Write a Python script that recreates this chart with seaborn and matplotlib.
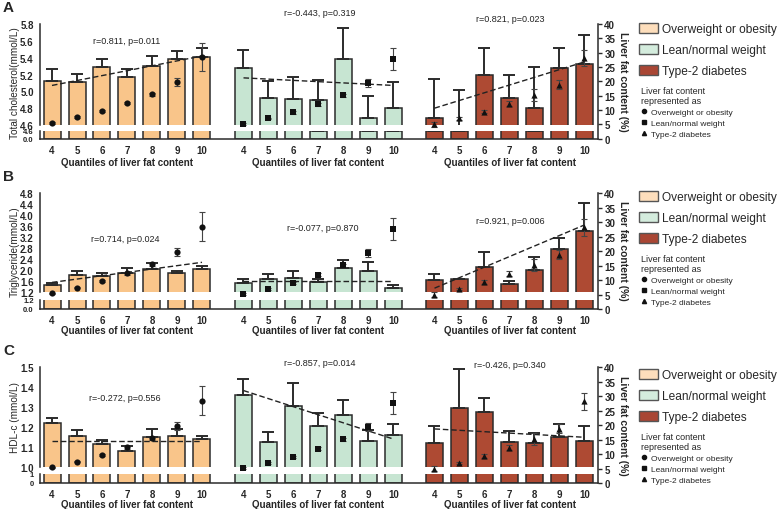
import numpy as np
import matplotlib
matplotlib.use("Agg")
import matplotlib.pyplot as plt
import seaborn as sns
from matplotlib.patches import Patch
from matplotlib.lines import Line2D

sns.set_style("white")
plt.rcParams['font.family'] = ['Liberation Sans', 'DejaVu Sans']

# ---------------- data ----------------
quantiles = [4, 5, 6, 7, 8, 9, 10]
group_names = ['Overweight or obesity', 'Lean/normal weight', 'Type-2 diabetes']

# Total cholesterol (mmol/L): mean and upper SE
tc_overweight = [5.12, 5.11, 5.29, 5.17, 5.30, 5.39, 5.41]
tc_overweight_err = [0.15, 0.10, 0.10, 0.10, 0.12, 0.09, 0.10]
tc_lean = [5.28, 4.92, 4.91, 4.90, 5.38, 4.68, 4.80]
tc_lean_err = [0.21, 0.20, 0.26, 0.24, 0.37, 0.26, 0.31]
tc_t2d = [4.68, 4.50, 5.19, 4.92, 4.80, 5.28, 5.33]
tc_t2d_err = [0.47, 0.51, 0.33, 0.28, 0.49, 0.24, 0.34]
tc_trend = [(5.07, 5.42), (5.16, 5.07), (4.80, 5.35)]
tc_stats = ['r=0.811, p=0.011', 'r=-0.443, p=0.319', 'r=0.821, p=0.023']

# Triglyceride (mmol/L)
tg_overweight = [1.47, 1.82, 1.81, 1.92, 2.05, 1.92, 2.05]
tg_overweight_err = [0.07, 0.14, 0.08, 0.15, 0.22, 0.07, 0.12]
tg_lean = [1.53, 1.69, 1.72, 1.56, 2.09, 1.96, 1.35]
tg_lean_err = [0.16, 0.18, 0.24, 0.14, 0.29, 0.36, 0.13]
tg_t2d = [1.65, 1.69, 2.11, 1.50, 2.00, 2.78, 3.42]
tg_t2d_err = [0.21, 0.0, 0.56, 0.12, 0.50, 0.41, 1.04]
tg_trend = [(1.56, 2.29), (1.60, 1.60), (1.35, 3.65)]
tg_stats = ['r=0.714, p=0.024', 'r=-0.077, p=0.870', 'r=0.921, p=0.006']

# HDL-c (mmol/L)
hdl_overweight = [1.218, 1.156, 1.114, 1.077, 1.151, 1.154, 1.139]
hdl_overweight_err = [0.029, 0.029, 0.020, 0.029, 0.040, 0.034, 0.015]
hdl_lean = [1.361, 1.122, 1.304, 1.203, 1.260, 1.131, 1.159]
hdl_lean_err = [0.080, 0.051, 0.117, 0.065, 0.077, 0.055, 0.056]
hdl_t2d = [1.119, 1.295, 1.277, 1.126, 1.119, 1.148, 1.129]
hdl_t2d_err = [0.087, 0.195, 0.067, 0.052, 0.050, 0.067, 0.077]
hdl_trend = [(1.129, 1.129), (1.383, 1.139), (1.190, 1.148)]
hdl_stats = ['r=-0.272, p=0.556', 'r=-0.857, p=0.014', 'r=-0.426, p=0.340']

# Liver fat content (%) per group, mean and SE
liver_overweight = [5.4, 7.4, 9.6, 12.4, 15.4, 19.7, 28.5]
liver_overweight_err = [0.3, 0.3, 0.4, 0.5, 0.6, 1.5, 4.9]
liver_lean = [5.1, 7.0, 9.1, 11.9, 15.1, 19.3, 27.7]
liver_lean_err = [0.3, 0.3, 0.4, 0.6, 0.6, 1.4, 3.9]
liver_t2d = [5.0, 7.0, 9.4, 12.2, 15.2, 18.8, 28.2]
liver_t2d_err = [0.9, 0.4, 0.6, 0.8, 2.0, 1.5, 2.8]

# ---------------- style ----------------
bar_colors = ['#F9C58A', '#C7E5D2', '#AE4A33']
legend_colors = ['#FDDEBC', '#D4ECDD', '#A94634']
markers = ['o', 's', '^']
edge = '#2b2b2b'

W, H = 779, 510
fig = plt.figure(figsize=(W / 100, H / 100), dpi=100)


def px_axes(x0, y0, x1, y1):
    return fig.add_axes([x0 / W, 1 - y1 / H, (x1 - x0) / W, (y1 - y0) / H])


def ftext(x, y, s, **kw):
    fig.text(x / W, 1 - y / H, s, **kw)


offsets = [0.0, 7.66, 15.3]
XL = (-0.48, 21.84)
LEFT, RIGHT = 40, 598
xpos = [np.array(quantiles) - 4 + o for o in offsets]

liver = [(liver_overweight, liver_overweight_err), (liver_lean, liver_lean_err),
         (liver_t2d, liver_t2d_err)]

rows = [
    dict(letter='A', top=25, brk_top=126, brk_bot=132, bottom=139.5,
         ylim=(4.6, 5.8), yticks=np.arange(4.6, 5.81, 0.2), fmt='{:.1f}',
         low_ylim=(0, 4.6), low_ticks=[0, 4.6], low_labels=['0.0', '4.6'],
         ylabel='Total cholesterol(mmol/L)', ylabel_y=83, rlabel_y=82,
         bars=[(tc_overweight, tc_overweight_err), (tc_lean, tc_lean_err), (tc_t2d, tc_t2d_err)],
         trend=tc_trend, stats=tc_stats, stat_pos=[(127, 41), (320, 14), (510, 20)],
         xlabel_y=163, dy=0),
    dict(letter='B', top=194.3, brk_top=293.3, brk_bot=301, bottom=310,
         ylim=(1.2, 4.8), yticks=np.arange(1.2, 4.81, 0.4), fmt='{:.1f}',
         low_ylim=(0, 1.2), low_ticks=[0, 1.2], low_labels=['0.0', '1.2'],
         ylabel='Triglyceride(mmol/L)', ylabel_y=252, rlabel_y=251,
         bars=[(tg_overweight, tg_overweight_err), (tg_lean, tg_lean_err), (tg_t2d, tg_t2d_err)],
         trend=tg_trend, stats=tg_stats, stat_pos=[(125, 239), (323, 229), (510, 222)],
         xlabel_y=331, dy=168),
    dict(letter='C', top=368.3, brk_top=467.7, brk_bot=474.5, bottom=484,
         ylim=(1.0, 1.5), yticks=np.arange(1.0, 1.501, 0.1), fmt='{:.1f}',
         low_ylim=(0, 1.0), low_ticks=[0, 1], low_labels=['0', '1'],
         ylabel='HDL-c (mmol/L)', ylabel_y=418, rlabel_y=426,
         bars=[(hdl_overweight, hdl_overweight_err), (hdl_lean, hdl_lean_err), (hdl_t2d, hdl_t2d_err)],
         trend=hdl_trend, stats=hdl_stats, stat_pos=[(125, 399), (320, 363), (510, 366)],
         xlabel_y=505, dy=346),
]

tick_font = dict(fontsize=7, fontweight='bold')

for r in rows:
    ax_up = px_axes(LEFT, r['top'], RIGHT, r['brk_top'])
    ax_lo = px_axes(LEFT, r['brk_bot'], RIGHT, r['bottom'])
    for ax in (ax_up, ax_lo):
        for gi, (vals, errs) in enumerate(r['bars']):
            sns.barplot(x=xpos[gi], y=vals, native_scale=True, width=0.68,
                        color=bar_colors[gi], saturation=1, edgecolor=edge,
                        linewidth=1.1, errorbar=None, ax=ax, zorder=2)
            ax.errorbar(xpos[gi], vals, yerr=[np.zeros(len(vals)), errs], fmt='none',
                        ecolor=edge, elinewidth=1.4, capsize=4.2, capthick=1.4, zorder=3)
        ax.set_xlim(*XL)
        ax.set_xlabel('')
        ax.set_ylabel('')
        for s in ('top', 'right'):
            ax.spines[s].set_visible(False)
        ax.spines['left'].set_color(edge)
        ax.spines['left'].set_linewidth(1.1)
        ax.tick_params(axis='y', direction='out', length=3, width=1, pad=1.5,
                       color=edge, labelsize=7)
    # upper part
    ax_up.set_ylim(*r['ylim'])
    ax_up.set_yticks(r['yticks'])
    ax_up.set_yticklabels([r['fmt'].format(v) for v in r['yticks']], **tick_font)
    ax_up.spines['bottom'].set_visible(False)
    ax_up.set_xticks([])
    for gi, (y0, y1) in enumerate(r['trend']):
        sns.lineplot(x=[xpos[gi][0], xpos[gi][-1]], y=[y0, y1], ax=ax_up,
                     color='#222222', linestyle=(0, (4, 2)), linewidth=1.0, zorder=4)
    # lower part (squeezed broken-axis stub)
    ax_lo.set_ylim(*r['low_ylim'])
    ax_lo.set_yticks(r['low_ticks'])
    ax_lo.set_yticklabels(r['low_labels'], fontsize=5.5, fontweight='bold')
    ax_lo.spines['bottom'].set_color(edge)
    ax_lo.spines['bottom'].set_linewidth(1.1)
    allx = np.concatenate(xpos)
    ax_lo.set_xticks(allx)
    ax_lo.set_xticklabels([str(q) for _ in offsets for q in quantiles], **tick_font)
    ax_lo.tick_params(axis='x', direction='out', length=3, width=1, pad=1.5, color=edge)

    # liver fat points on right axis
    ax_r = px_axes(LEFT, r['top'], RIGHT, r['bottom'])
    ax_r.patch.set_visible(False)
    for gi, (lv, le) in enumerate(liver):
        ax_r.errorbar(xpos[gi], lv, yerr=le, fmt='none', ecolor='#444444',
                      elinewidth=0.8, capsize=2.2, capthick=0.8, zorder=5)
        sns.scatterplot(x=xpos[gi], y=lv, marker=markers[gi], color='#111111',
                        s=20, linewidth=0, ax=ax_r, zorder=6)
    ax_r.set_xlim(*XL)
    ax_r.set_ylim(0, 40)
    ax_r.set_yticks(np.arange(0, 41, 5))
    ax_r.set_yticklabels([str(v) for v in range(0, 41, 5)], **tick_font)
    ax_r.yaxis.tick_right()
    ax_r.set_xticks([])
    ax_r.set_xlabel('')
    ax_r.set_ylabel('')
    for s in ('top', 'left', 'bottom'):
        ax_r.spines[s].set_visible(False)
    ax_r.spines['right'].set_color(edge)
    ax_r.spines['right'].set_linewidth(1.1)
    ax_r.tick_params(axis='y', direction='out', length=3, width=1, pad=1.5, color=edge)

    # texts
    ftext(3, r['top'] - 17, r['letter'], fontsize=11, fontweight='bold', va='center')
    ftext(15, r['ylabel_y'], r['ylabel'], fontsize=7.2, rotation=90, ha='center', va='center')
    ftext(623, r['rlabel_y'], 'Liver fat content (%)', fontsize=7.5, fontweight='bold',
          rotation=-90, ha='center', va='center')
    for gi, s in enumerate(r['stats']):
        x, y = r['stat_pos'][gi]
        ftext(x, y, s, fontsize=6.5, ha='center', va='center', color='#222222')
        cx = LEFT + (offsets[gi] + 3 - XL[0]) * (RIGHT - LEFT) / (XL[1] - XL[0])
        ftext(cx, r['xlabel_y'], 'Quantiles of liver fat content', fontsize=7,
              fontweight='bold', ha='center', va='center')

    # legends
    handles = [Patch(facecolor=legend_colors[i], edgecolor='#555555', linewidth=1.0)
               for i in range(3)]
    fig.legend(handles, group_names, loc='upper left',
               bbox_to_anchor=(639 / W, 1 - (24 + r['dy']) / H),
               frameon=False, fontsize=8.6, handlelength=1.6, handleheight=0.85,
               handletextpad=0.35, labelspacing=0.75, borderpad=0, borderaxespad=0)
    mh = [Line2D([], [], marker=m, color='#111111', linestyle='none', markersize=3)
          for m in markers]
    fig.legend(mh, group_names, loc='upper left',
               bbox_to_anchor=(641 / W, 1 - (87 + r['dy']) / H),
               frameon=False, fontsize=6, title='Liver fat content\nrepresented as',
               title_fontsize=6.5, alignment='left', handlelength=0.8,
               handletextpad=0.4, labelspacing=0.35, borderpad=0, borderaxespad=0)

fig.savefig('out.png', dpi=100)
